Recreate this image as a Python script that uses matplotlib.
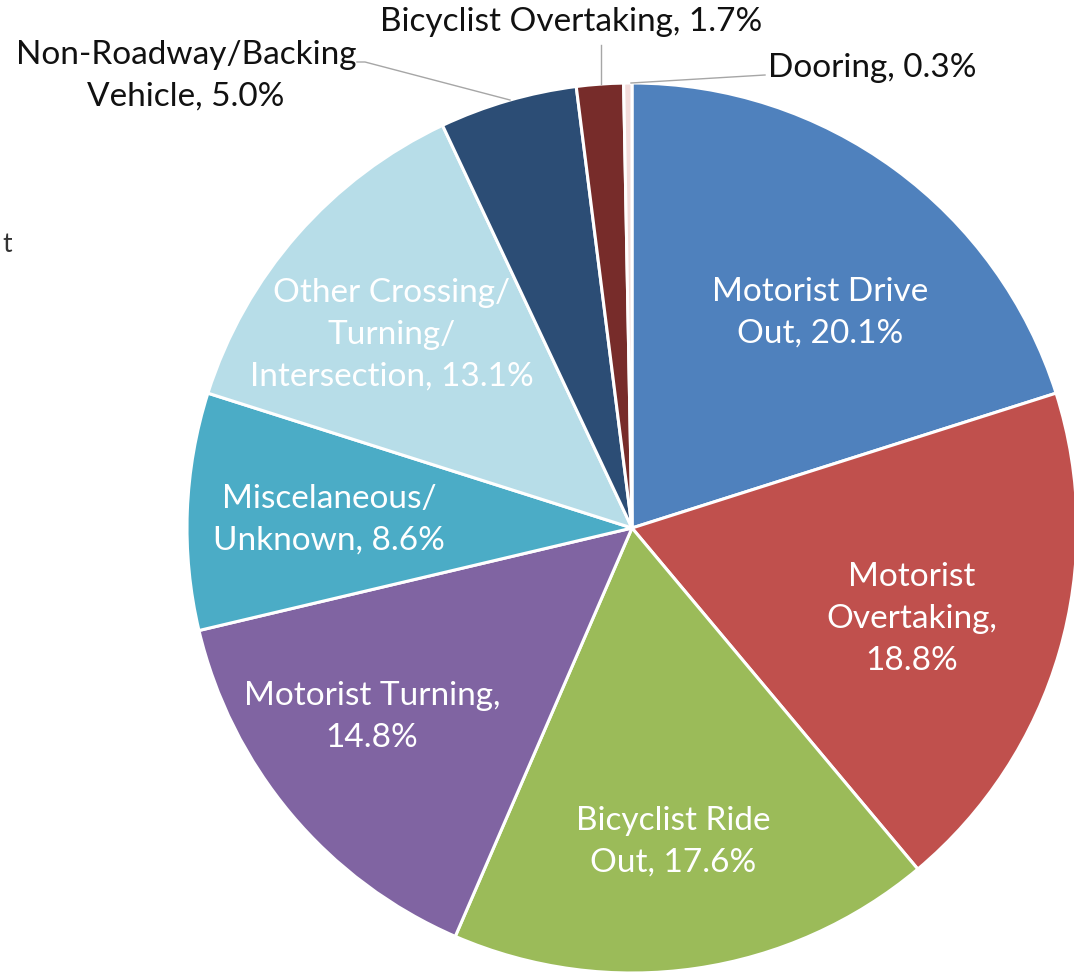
import matplotlib.pyplot as plt

plt.rcParams['font.family'] = ['Lato', 'DejaVu Sans']

# 自行车事故类型占比 (%)
categories = ['Motorist Drive Out', 'Motorist Overtaking', 'Bicyclist Ride Out',
              'Motorist Turning', 'Miscelaneous/Unknown',
              'Other Crossing/Turning/Intersection', 'Non-Roadway/Backing Vehicle',
              'Bicyclist Overtaking', 'Dooring']
shares = [20.1, 18.8, 17.6, 14.8, 8.6, 13.1, 5.0, 1.7, 0.3]
label_text = ['Motorist Drive\nOut, 20.1%', 'Motorist\nOvertaking,\n18.8%',
              'Bicyclist Ride\nOut, 17.6%', 'Motorist Turning,\n14.8%',
              'Miscelaneous/\nUnknown, 8.6%', 'Other Crossing/\nTurning/\nIntersection, 13.1%',
              'Non-Roadway/Backing\nVehicle, 5.0%', 'Bicyclist Overtaking, 1.7%',
              'Dooring, 0.3%']
colors = ['#4F81BD', '#C0504D', '#9BBB59', '#8064A2', '#4BACC6',
          '#B7DDE8', '#2C4D75', '#772C2A', '#F2DCDB']

W, H = 1074, 977
cx, cy, R = 632, 528, 445
fs = 24

fig = plt.figure(figsize=(W / 100, H / 100), dpi=100)
ax = fig.add_axes([(cx - R) / W, (H - cy - R) / H, 2 * R / W, 2 * R / H])
ax.pie(shares, colors=colors, startangle=90, counterclock=False, radius=1,
       wedgeprops=dict(edgecolor='white', linewidth=2.2))
ax.set_xlim(-1, 1)
ax.set_ylim(-1, 1)
ax.axis('off')


def px(x, y):
    # 像素坐标 -> 数据坐标
    return (x - cx) / R, (cy - y) / R


# 标签位置 (像素)
inside_pos = [(820, 313), (912, 619), (673, 842), (372, 717), (329, 520), (392, 335)]
for txt, (x, y) in zip(label_text[:6], inside_pos):
    ax.text(*px(x, y), txt, color='white', fontsize=fs, ha='center', va='center',
            linespacing=1.5)

ax.text(*px(186, 76), label_text[6], color='#111111', fontsize=fs, ha='center',
        va='center', linespacing=1.5)
ax.text(*px(571, 22), label_text[7], color='#111111', fontsize=fs, ha='center', va='center')
ax.text(*px(768, 68), label_text[8], color='#111111', fontsize=fs, ha='left', va='center')

# 引导线
leaders = [[(357, 62), (365, 62), (510, 100)],
           [(601, 45), (601, 84)],
           [(765, 75), (631, 83)]]
for pts in leaders:
    xs, ys = zip(*[px(x, y) for x, y in pts])
    ax.plot(xs, ys, color='#A6A6A6', lw=1, clip_on=False)

fig.text(2 / W, 1 - 245 / H, 't', fontsize=19, color='#333333', ha='left', va='center')

fig.savefig('out.png', dpi=100)
